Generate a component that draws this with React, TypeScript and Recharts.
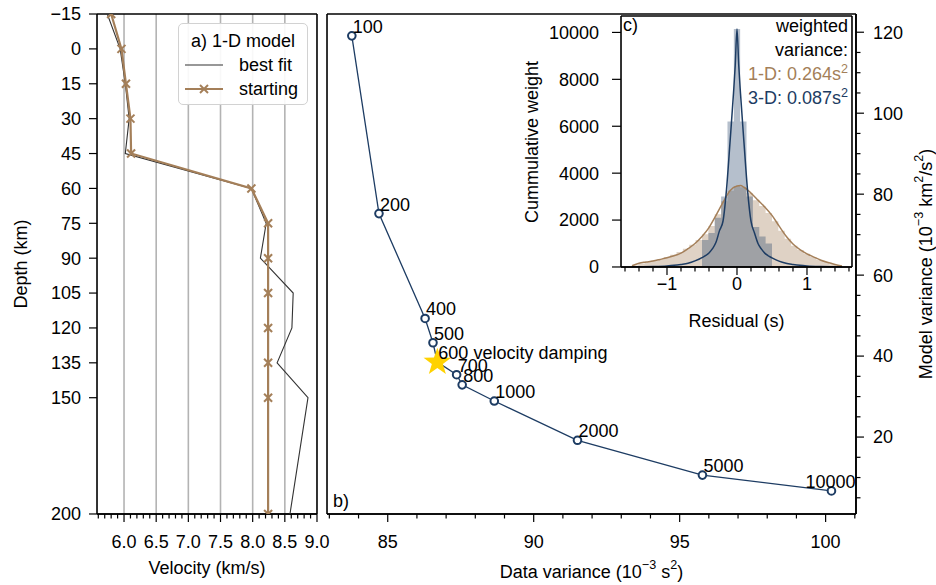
import React from "react";
import {
  ComposedChart,
  Scatter,
  Line,
  Area,
  XAxis,
  YAxis,
  ReferenceLine,
  Legend,
  Customized,
} from "recharts";

const FONT = "'Liberation Sans', Arial, Helvetica, sans-serif";
const BROWN = "#a47f59";
const NAVY = "#1d3c63";
const GOLD = "#ffd200";
const THIN = 0.01; // axes need a non-zero size to be drawn

// a) 1-D velocity model
const modelDepth = [-15, 0, 15, 30, 45, 60, 75, 90, 105, 120, 135, 150, 200];
const startingVelocity = [5.8, 5.96, 6.03, 6.1, 6.11, 7.98, 8.24, 8.24, 8.24, 8.24, 8.24, 8.24, 8.24];
const bestFitVelocity = [5.74, 5.94, 6.02, 6.08, 6.02, 7.98, 8.21, 8.12, 8.63, 8.61, 8.38, 8.86, 8.58];
const depthTicks = [-15, 0, 15, 30, 45, 60, 75, 90, 105, 120, 135, 150, 200];
const velocityTicks = [6.0, 6.5, 7.0, 7.5, 8.0, 8.5, 9.0];
const velocityGrid = [6.0, 6.5, 7.0, 7.5, 8.0, 8.5];
const velocityMinorTicks = [
  5.6, 5.7, 5.8, 5.9, 6.1, 6.2, 6.3, 6.4, 6.6, 6.7, 6.8, 6.9, 7.1, 7.2, 7.3, 7.4,
  7.6, 7.7, 7.8, 7.9, 8.1, 8.2, 8.3, 8.4, 8.6, 8.7, 8.8, 8.9,
];

// b) L-curve of damping values
const dampingLabels = ["100", "200", "400", "500", "600", "700", "800", "1000", "2000", "5000", "10000"];
const dataVariance = [83.77, 84.7, 86.28, 86.55, 86.7, 87.36, 87.55, 88.65, 91.5, 95.78, 100.2];
const modelVariance = [119.1, 75.2, 49.3, 43.3, 38.5, 35.4, 32.9, 28.9, 19.2, 10.6, 6.7];
const chosenDamping = "600";
const dataVarianceTicks = [85, 90, 95, 100];
const dataVarianceMinorTicks = [83, 84, 86, 87, 88, 89, 91, 92, 93, 94, 96, 97, 98, 99, 101];
const modelVarianceTicks = [20, 40, 60, 80, 100, 120];
const modelVarianceMinorTicks = [5, 10, 15, 25, 30, 35, 45, 50, 55, 65, 70, 75, 85, 90, 95, 105, 110, 115];

// c) residual histograms
const hist1DEdges = [
  -1.5, -1.409, -1.318, -1.227, -1.136, -1.045, -0.955, -0.864, -0.773, -0.682, -0.591, -0.5,
  -0.409, -0.318, -0.227, -0.136, -0.045, 0.045, 0.136, 0.227, 0.318, 0.409, 0.5, 0.591,
  0.682, 0.773, 0.864, 0.955, 1.045, 1.136, 1.227, 1.318, 1.409, 1.5,
];
const hist1DWeight = [
  60, 150, 210, 270, 330, 410, 520, 640, 780, 950, 1150, 1400, 1750, 2250, 2800, 3250, 3450,
  3400, 3150, 2850, 2600, 2300, 1950, 1550, 1200, 900, 720, 560, 430, 300, 200, 120, 50,
];
const hist3DEdges = [-0.5, -0.409, -0.318, -0.227, -0.136, -0.045, 0.045, 0.136, 0.227, 0.318, 0.409, 0.5];
const hist3DWeight = [1150, 1450, 2100, 3000, 6200, 10150, 6200, 3000, 1700, 1300, 1000];
const kde1DResidual = [
  -1.5, -1.4, -1.3, -1.2, -1.1, -1.0, -0.9, -0.8, -0.7, -0.6, -0.5, -0.4, -0.3, -0.2, -0.1, 0,
  0.05, 0.1, 0.2, 0.3, 0.4, 0.5, 0.6, 0.7, 0.8, 0.9, 1.0, 1.1, 1.2, 1.3, 1.4, 1.5,
];
const kde1DWeight = [
  50, 160, 210, 255, 320, 390, 480, 590, 780, 1000, 1300, 1680, 2200, 2750, 3250, 3450,
  3470, 3400, 3150, 2850, 2550, 2200, 1750, 1320, 980, 740, 560, 420, 290, 190, 110, 40,
];
const kde3DResidual = [
  -1.5, -1.4, -1.2, -1.0, -0.9, -0.8, -0.7, -0.6, -0.5, -0.4, -0.35, -0.3, -0.25, -0.2, -0.15,
  -0.1, -0.05, -0.025, 0, 0.025, 0.05, 0.1, 0.15, 0.2, 0.25, 0.3, 0.35, 0.4, 0.5, 0.6, 0.7,
  0.8, 0.9, 1.0, 1.2, 1.4, 1.5,
];
const kde3DWeight = [
  3, 8, 20, 45, 70, 110, 160, 260, 400, 600, 780, 1050, 1550, 1950, 3300, 5300, 7400, 8600,
  10150, 8600, 7400, 5300, 3300, 1950, 1450, 1000, 760, 580, 390, 250, 160, 110, 70, 45, 20, 8, 3,
];
const residualTicks = [-1, 0, 1];
const residualMinorTicks = [-1.6, -1.4, -1.2, -0.8, -0.6, -0.4, -0.2, 0.2, 0.4, 0.6, 0.8, 1.2, 1.4, 1.6];
const weightTicks = [0, 2000, 4000, 6000, 8000, 10000];

// tables for the library
const startingModel = modelDepth.map((depth, i) => ({ depth, v: startingVelocity[i] }));
const bestFitModel = modelDepth.map((depth, i) => ({ depth, v: bestFitVelocity[i] }));
const lCurve = dampingLabels.map((label, i) => ({ label, dv: dataVariance[i], mv: modelVariance[i] }));
const chosenPoint = lCurve.filter((p) => p.label === chosenDamping);
const hist1D = hist1DEdges.map((x, i) => ({ x, w: hist1DWeight[i] ?? 0 }));
const hist3D = hist3DEdges.map((x, i) => ({ x, w: hist3DWeight[i] ?? 0 }));
const kde1D = kde1DResidual.map((x, i) => ({ x, w: kde1DWeight[i] }));
const kde3D = kde3DResidual.map((x, i) => ({ x, w: kde3DWeight[i] }));

const minus = (v: number) => (v < 0 ? `\u2212${Math.abs(v)}` : `${v}`);
const blank = () => "";

const tickText = { fill: "#000", fontSize: 18 };
const axisLine = { stroke: "#000", strokeWidth: 1.6 };
const tickLine = { stroke: "#000", strokeWidth: 1.2 };

const XMark = (props: any) => {
  const { cx, cy } = props;
  if (cx == null || cy == null) return <g />;
  const s = 4;
  return (
    <g stroke={BROWN} strokeWidth={2}>
      <line x1={cx - s} y1={cy - s} x2={cx + s} y2={cy + s} />
      <line x1={cx - s} y1={cy + s} x2={cx + s} y2={cy - s} />
    </g>
  );
};

const NoMark = () => <g />;

const RingMark = (props: any) => {
  const { cx, cy } = props;
  if (cx == null || cy == null) return <g />;
  return <circle cx={cx} cy={cy} r={3.8} fill="#fff" stroke={NAVY} strokeWidth={2} />;
};

const StarMark = (props: any) => {
  const { cx, cy } = props;
  if (cx == null || cy == null) return <g />;
  const pts: string[] = [];
  for (let i = 0; i < 10; i++) {
    const r = i % 2 === 0 ? 14.5 : 5.8;
    const a = -Math.PI / 2 + (i * Math.PI) / 5;
    pts.push(`${cx + r * Math.cos(a)},${cy + r * Math.sin(a)}`);
  }
  return <polygon points={pts.join(" ")} fill={GOLD} />;
};

const DampingLabel = (props: any) => {
  const { cx, cy, payload } = props;
  if (cx == null || cy == null) return <g />;
  const last = payload.label === dampingLabels[dampingLabels.length - 1];
  const text = payload.label === chosenDamping ? `${payload.label} velocity damping` : payload.label;
  return (
    <text
      x={last ? cx + 24 : cx + 1}
      y={cy - 3}
      textAnchor={last ? "end" : "start"}
      fontSize={18}
      fill="#000"
    >
      {text}
    </text>
  );
};

const ModelLegend = () => (
  <div
    style={{
      boxSizing: "border-box",
      width: 130,
      border: "1.5px solid #d2d2d2",
      borderRadius: 5,
      background: "rgba(255,255,255,0.9)",
      padding: "5px 4px 3px 4px",
      fontFamily: FONT,
      fontSize: 18,
      lineHeight: "24px",
      color: "#000",
    }}
  >
    <div style={{ textAlign: "center" }}>a) 1-D model</div>
    <div style={{ display: "flex", alignItems: "center" }}>
      <svg width={40} height={12} style={{ marginLeft: 2 }}>
        <line x1={0} y1={6} x2={38} y2={6} stroke="#333" strokeWidth={1.1} />
      </svg>
      <span style={{ marginLeft: 14 }}>best fit</span>
    </div>
    <div style={{ display: "flex", alignItems: "center" }}>
      <svg width={40} height={12} style={{ marginLeft: 2 }}>
        <line x1={0} y1={6} x2={38} y2={6} stroke={BROWN} strokeWidth={2.2} />
        <XMark cx={19} cy={6} />
      </svg>
      <span style={{ marginLeft: 14 }}>starting</span>
    </div>
  </div>
);

const ModelPanel = () => (
  <ComposedChart
    width={340}
    height={585}
    margin={{ top: 14, right: 23, bottom: 71, left: 97 }}
  >
    <XAxis
      xAxisId="xm"
      type="number"
      dataKey="v"
      domain={[5.58, 9.0]}
      allowDataOverflow
      ticks={velocityMinorTicks}
      interval={0}
      tickFormatter={blank}
      tick={tickText}
      tickSize={4.5}
      axisLine={axisLine}
      tickLine={tickLine}
      height={THIN}
    />
    <XAxis
      xAxisId="x"
      type="number"
      dataKey="v"
      domain={[5.58, 9.0]}
      allowDataOverflow
      ticks={velocityTicks}
      interval={0}
      tickFormatter={(v) => v.toFixed(1)}
      tick={tickText}
      tickSize={8}
      tickMargin={13}
      axisLine={axisLine}
      tickLine={tickLine}
      height={THIN}
    />
    <XAxis xAxisId="xt" orientation="top" type="number" domain={[5.58, 9.0]} ticks={velocityTicks} tick={false} tickLine={false} axisLine={axisLine} height={THIN} />
    <YAxis
      yAxisId="y"
      type="number"
      dataKey="depth"
      domain={[-15, 200]}
      allowDataOverflow
      reversed
      ticks={depthTicks}
      interval={0}
      tickFormatter={minus}
      tick={tickText}
      tickSize={8}
      tickMargin={8}
      axisLine={axisLine}
      tickLine={tickLine}
      width={THIN}
    />
    <YAxis yAxisId="yr" orientation="right" type="number" domain={[-15, 200]} ticks={depthTicks} tick={false} tickLine={false} axisLine={axisLine} width={THIN} />
    {velocityGrid.map((v) => (
      <ReferenceLine key={v} xAxisId="x" yAxisId="y" x={v} stroke="#b3b3b3" strokeWidth={1.6} />
    ))}
    <Scatter
      name="best fit"
      xAxisId="x"
      yAxisId="y"
      data={bestFitModel}
      line={{ stroke: "#333", strokeWidth: 1.1, fill: "none" }}
      shape={NoMark}
      isAnimationActive={false}
    />
    <Scatter
      name="starting"
      xAxisId="x"
      yAxisId="y"
      data={startingModel}
      line={{ stroke: BROWN, strokeWidth: 2.2, fill: "none" }}
      shape={XMark}
      isAnimationActive={false}
    />
    <Legend
      layout="horizontal"
      align="center"
      verticalAlign="middle"
      content={ModelLegend}
      wrapperStyle={{ left: 178, top: 23, width: 130, height: 84 }}
    />
    <Customized
      component={
        <g fontFamily={FONT} fontSize={18} fill="#000">
          <text x={207} y={568} textAnchor="middle" dominantBaseline="central">
            Velocity (km/s)
          </text>
          <text transform="translate(21,264) rotate(-90)" textAnchor="middle" dominantBaseline="central">
            Depth (km)
          </text>
        </g>
      }
    />
  </ComposedChart>
);

const LCurvePanel = () => (
  <ComposedChart width={936} height={585} margin={{ top: 14, right: 80, bottom: 71, left: 327 }}>
    <XAxis
      xAxisId="xm"
      type="number"
      dataKey="dv"
      domain={[82.92, 101.04]}
      allowDataOverflow
      ticks={dataVarianceMinorTicks}
      interval={0}
      tickFormatter={blank}
      tick={tickText}
      tickSize={4.5}
      axisLine={axisLine}
      tickLine={tickLine}
      height={THIN}
    />
    <XAxis
      xAxisId="x"
      type="number"
      dataKey="dv"
      domain={[82.92, 101.04]}
      allowDataOverflow
      ticks={dataVarianceTicks}
      interval={0}
      tick={tickText}
      tickSize={8}
      tickMargin={13}
      axisLine={axisLine}
      tickLine={tickLine}
      height={THIN}
    />
    <XAxis xAxisId="xt" orientation="top" type="number" domain={[82.92, 101.04]} ticks={dataVarianceTicks} tick={false} tickLine={false} axisLine={axisLine} height={THIN} />
    <YAxis
      yAxisId="ym"
      orientation="right"
      type="number"
      dataKey="mv"
      domain={[1, 124.5]}
      allowDataOverflow
      ticks={modelVarianceMinorTicks}
      interval={0}
      tickFormatter={blank}
      tick={tickText}
      tickSize={4.5}
      axisLine={axisLine}
      tickLine={tickLine}
      width={THIN}
    />
    <YAxis
      yAxisId="y"
      orientation="right"
      type="number"
      dataKey="mv"
      domain={[1, 124.5]}
      allowDataOverflow
      ticks={modelVarianceTicks}
      interval={0}
      tick={tickText}
      tickSize={8}
      tickMargin={9}
      axisLine={axisLine}
      tickLine={tickLine}
      width={THIN}
    />
    <YAxis yAxisId="yl" orientation="left" type="number" domain={[1, 124.5]} ticks={modelVarianceTicks} tick={false} tickLine={false} axisLine={axisLine} width={THIN} />
    <Scatter
      xAxisId="x"
      yAxisId="y"
      data={lCurve}
      line={{ stroke: NAVY, strokeWidth: 1.3, fill: "none" }}
      shape={RingMark}
      isAnimationActive={false}
    />
    <Scatter xAxisId="x" yAxisId="y" data={chosenPoint} shape={StarMark} isAnimationActive={false} />
    <Scatter xAxisId="x" yAxisId="y" data={lCurve} shape={DampingLabel} isAnimationActive={false} />
    <Customized
      component={
        <g fontFamily={FONT} fontSize={18} fill="#000">
          <text x={591.5} y={572} textAnchor="middle" dominantBaseline="central">
            Data variance (10
            <tspan dy={-7} fontSize={12.6}>{"\u22123"}</tspan>
            <tspan dy={7}> s</tspan>
            <tspan dy={-7} fontSize={12.6}>2</tspan>
            <tspan dy={7}>)</tspan>
          </text>
          <text transform="translate(926,264) rotate(-90)" textAnchor="middle" dominantBaseline="central">
            Model variance (10
            <tspan dy={-7} fontSize={12.6}>{"\u22123"}</tspan>
            <tspan dy={7}> km</tspan>
            <tspan dy={-7} fontSize={12.6}>2</tspan>
            <tspan dy={7}>/s</tspan>
            <tspan dy={-7} fontSize={12.6}>2</tspan>
            <tspan dy={7}>)</tspan>
          </text>
          <text x={333} y={507}>b)</text>
        </g>
      }
    />
  </ComposedChart>
);

const ResidualPanel = () => (
  <ComposedChart width={360} height={340} margin={{ top: 16, right: 8, bottom: 73, left: 121 }}>
    <XAxis
      xAxisId="xm"
      type="number"
      dataKey="x"
      domain={[-1.657, 1.643]}
      allowDataOverflow
      ticks={residualMinorTicks}
      interval={0}
      tickFormatter={blank}
      tick={tickText}
      tickSize={4.5}
      axisLine={axisLine}
      tickLine={tickLine}
      height={THIN}
    />
    <XAxis
      xAxisId="x"
      type="number"
      dataKey="x"
      domain={[-1.657, 1.643]}
      allowDataOverflow
      ticks={residualTicks}
      interval={0}
      tickFormatter={minus}
      tick={tickText}
      tickSize={8}
      tickMargin={2}
      axisLine={axisLine}
      tickLine={tickLine}
      height={THIN}
    />
    <XAxis xAxisId="xt" orientation="top" type="number" domain={[-1.657, 1.643]} ticks={residualTicks} tick={false} tickLine={false} axisLine={axisLine} height={THIN} />
    <YAxis
      yAxisId="y"
      type="number"
      dataKey="w"
      domain={[0, 10700]}
      allowDataOverflow
      ticks={weightTicks}
      interval={0}
      tick={tickText}
      tickSize={9}
      tickMargin={13}
      axisLine={axisLine}
      tickLine={tickLine}
      width={THIN}
    />
    <YAxis yAxisId="yr" orientation="right" type="number" domain={[0, 10700]} ticks={weightTicks} tick={false} tickLine={false} axisLine={axisLine} width={THIN} />
    <Area
      xAxisId="x"
      yAxisId="y"
      data={hist1D}
      dataKey="w"
      type="stepAfter"
      fill={BROWN}
      fillOpacity={0.35}
      stroke="none"
      dot={false}
      activeDot={false}
      isAnimationActive={false}
    />
    <Area
      xAxisId="x"
      yAxisId="y"
      data={hist3D}
      dataKey="w"
      type="stepAfter"
      fill={NAVY}
      fillOpacity={0.33}
      stroke="none"
      dot={false}
      activeDot={false}
      isAnimationActive={false}
    />
    <Line
      xAxisId="x"
      yAxisId="y"
      data={kde1D}
      dataKey="w"
      type="monotone"
      stroke={BROWN}
      strokeWidth={1.5}
      dot={false}
      activeDot={false}
      isAnimationActive={false}
    />
    <Line
      xAxisId="x"
      yAxisId="y"
      data={kde3D}
      dataKey="w"
      type="monotone"
      stroke={NAVY}
      strokeWidth={1.5}
      dot={false}
      activeDot={false}
      isAnimationActive={false}
    />
    <Customized
      component={
        <g fontFamily={FONT} fontSize={18} fill="#000">
          <text x={236.5} y={321} textAnchor="middle" dominantBaseline="central">
            Residual (s)
          </text>
          <text transform="translate(32,142) rotate(-90)" textAnchor="middle" dominantBaseline="central">
            Cummulative weight
          </text>
          <text x={123} y={31}>c)</text>
          <text x={348} y={32} textAnchor="end">weighted</text>
          <text x={348} y={56} textAnchor="end">variance:</text>
          <text x={348} y={80} textAnchor="end" fill={BROWN}>
            1-D: 0.264s<tspan dy={-7} fontSize={12.6}>2</tspan>
          </text>
          <text x={348} y={104} textAnchor="end" fill={NAVY}>
            3-D: 0.087s<tspan dy={-7} fontSize={12.6}>2</tspan>
          </text>
        </g>
      }
    />
  </ComposedChart>
);

export default function App() {
  return (
    <div style={{ position: "absolute", left: 0, top: 0, width: 936, height: 585, background: "#fff", fontFamily: FONT }}>
      <div style={{ position: "absolute", left: 0, top: 0 }}>
        <ModelPanel />
      </div>
      <div style={{ position: "absolute", left: 0, top: 0 }}>
        <LCurvePanel />
      </div>
      <div style={{ position: "absolute", left: 500, top: 0 }}>
        <ResidualPanel />
      </div>
    </div>
  );
}
